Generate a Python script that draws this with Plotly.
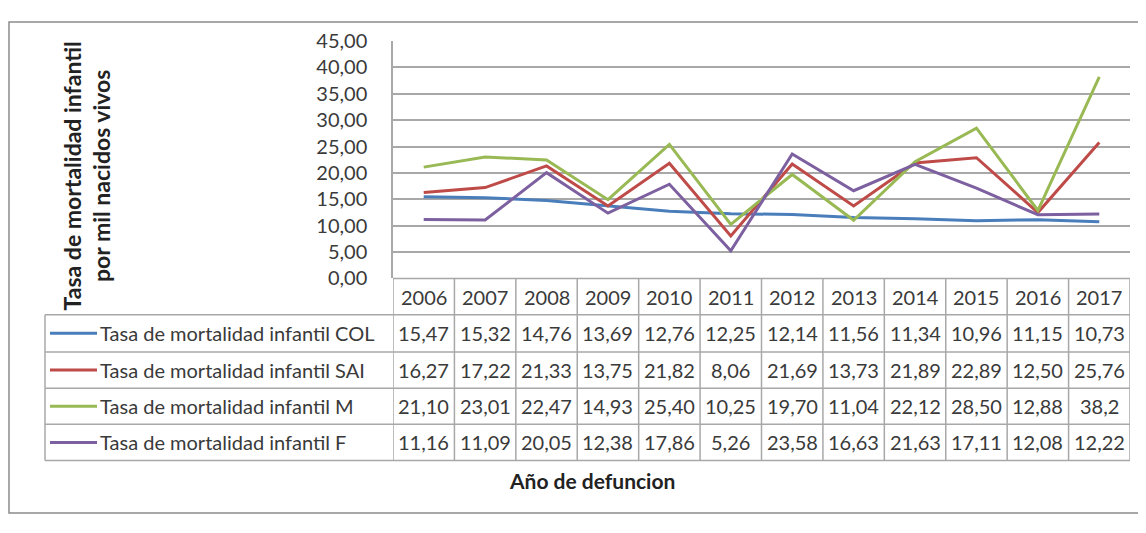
import plotly.graph_objects as go

# ---------------- data ----------------
years = [2006, 2007, 2008, 2009, 2010, 2011, 2012, 2013, 2014, 2015, 2016, 2017]
series_names = [
    "Tasa de mortalidad infantil COL",
    "Tasa de mortalidad infantil SAI",
    "Tasa de mortalidad infantil M",
    "Tasa de mortalidad infantil F",
]
col_vals = [15.47, 15.32, 14.76, 13.69, 12.76, 12.25, 12.14, 11.56, 11.34, 10.96, 11.15, 10.73]
sai_vals = [16.27, 17.22, 21.33, 13.75, 21.82, 8.06, 21.69, 13.73, 21.89, 22.89, 12.50, 25.76]
m_vals = [21.10, 23.01, 22.47, 14.93, 25.40, 10.25, 19.70, 11.04, 22.12, 28.50, 12.88, 38.2]
f_vals = [11.16, 11.09, 20.05, 12.38, 17.86, 5.26, 23.58, 16.63, 21.63, 17.11, 12.08, 12.22]
# labels as shown in the data table
col_txt = ["15,47", "15,32", "14,76", "13,69", "12,76", "12,25", "12,14", "11,56", "11,34", "10,96", "11,15", "10,73"]
sai_txt = ["16,27", "17,22", "21,33", "13,75", "21,82", "8,06", "21,69", "13,73", "21,89", "22,89", "12,50", "25,76"]
m_txt = ["21,10", "23,01", "22,47", "14,93", "25,40", "10,25", "19,70", "11,04", "22,12", "28,50", "12,88", "38,2"]
f_txt = ["11,16", "11,09", "20,05", "12,38", "17,86", "5,26", "23,58", "16,63", "21,63", "17,11", "12,08", "12,22"]
y_title = "Tasa de mortalidad infantil<br>por mil nacidos vivos"
x_title = "Año de defuncion"

# ---------------- style ----------------
colors = ["#4a7ebb", "#be4b48", "#98b954", "#7d60a0"]
OFF = 8  # page body margin
W, H = 1146 - 2 * OFF, 533 - 2 * OFF
FONT = "Lato"
TXT = "#3a3a3a"
GRID = "#a8a8a8"
FS = 20


def px(x):
    return (x - OFF) / W


def py(y):
    return 1 - (y - OFF) / H


plot_l, plot_r = 393, 1130
plot_t, plot_b = 29, 278
row_edges = [278, 316, 355, 393, 431, 469]
tab_l = 45

fig = go.Figure()
all_vals = [col_vals, sai_vals, m_vals, f_vals]
all_txt = [col_txt, sai_txt, m_txt, f_txt]
for name, vals, c in zip(series_names, all_vals, colors):
    fig.add_trace(go.Scatter(x=years, y=vals, name=name, mode="lines",
                             line=dict(color=c, width=3), showlegend=False))

shapes = []
annotations = []

# outer chart border
shapes.append(dict(type="rect", xref="paper", yref="paper",
                   x0=px(9), x1=px(1150), y0=py(524), y1=py(9),
                   line=dict(color="#8c8c8c", width=1.5)))

# table horizontal lines
for i, ry in enumerate(row_edges):
    x0 = plot_l if i == 0 else tab_l
    shapes.append(dict(type="line", xref="paper", yref="paper",
                       x0=px(x0), x1=px(plot_r), y0=py(ry), y1=py(ry),
                       line=dict(color=GRID, width=1.5)))
# table left border
shapes.append(dict(type="line", xref="paper", yref="paper",
                   x0=px(tab_l), x1=px(tab_l), y0=py(row_edges[1]), y1=py(row_edges[-1]),
                   line=dict(color=GRID, width=1.5)))
# column boundaries (data coords)
bounds = [years[0] - 0.5] + [y + 0.5 for y in years]
for b in bounds:
    shapes.append(dict(type="line", xref="x", yref="paper",
                       x0=b, x1=b, y0=py(row_edges[0]), y1=py(row_edges[-1]),
                       line=dict(color=GRID, width=1.5)))

# header years
hdr_y = (row_edges[0] + row_edges[1]) / 2
for yr in years:
    annotations.append(dict(x=yr, y=py(hdr_y), xref="x", yref="paper", text=str(yr),
                            showarrow=False, xanchor="center", yanchor="middle",
                            font=dict(family=FONT, size=FS, color=TXT)))

# rows
for r, (name, txts, c) in enumerate(zip(series_names, all_txt, colors)):
    cy = (row_edges[r + 1] + row_edges[r + 2]) / 2
    shapes.append(dict(type="line", xref="paper", yref="paper",
                       x0=px(50), x1=px(97), y0=py(cy), y1=py(cy),
                       line=dict(color=c, width=3)))
    annotations.append(dict(x=px(98), y=py(cy), xref="paper", yref="paper", text=name,
                            showarrow=False, xanchor="left", yanchor="middle",
                            font=dict(family=FONT, size=FS, color=TXT)))
    for yr, t in zip(years, txts):
        annotations.append(dict(x=yr, y=py(cy), xref="x", yref="paper", text=t,
                                showarrow=False, xanchor="center", yanchor="middle",
                                font=dict(family=FONT, size=FS, color=TXT)))

# axis titles
annotations.append(dict(x=px(87), y=py(171), xref="paper", yref="paper", text=y_title,
                        showarrow=False, textangle=-90, xanchor="center", yanchor="middle",
                        font=dict(family=FONT, size=23, color="#222222", weight="bold")))
annotations.append(dict(x=px(592), y=py(490), xref="paper", yref="paper", text=x_title,
                        showarrow=False, xanchor="center", yanchor="middle",
                        font=dict(family=FONT, size=21, color="#222222", weight="bold")))

fig.update_layout(
    width=W, height=H,
    margin=dict(l=0, r=0, t=0, b=0),
    paper_bgcolor="white", plot_bgcolor="white",
    separators=",.",
    shapes=shapes, annotations=annotations,
    xaxis=dict(domain=[px(plot_l), px(plot_r)], range=[years[0] - 0.5, years[-1] + 0.5],
               showticklabels=False, showgrid=False, zeroline=False, showline=False,
               ticks=""),
    yaxis=dict(domain=[py(plot_b), py(plot_t)], range=[0, 45], dtick=5,
               tickformat=".2f", showgrid=True, gridcolor=GRID, gridwidth=1.5,
               zeroline=False, showline=True, linecolor=GRID, linewidth=1.5,
               ticks="outside", ticklen=20, tickcolor="rgba(0,0,0,0)",
               tickfont=dict(family=FONT, size=FS, color=TXT)),
)

fig.write_html("out.html")
